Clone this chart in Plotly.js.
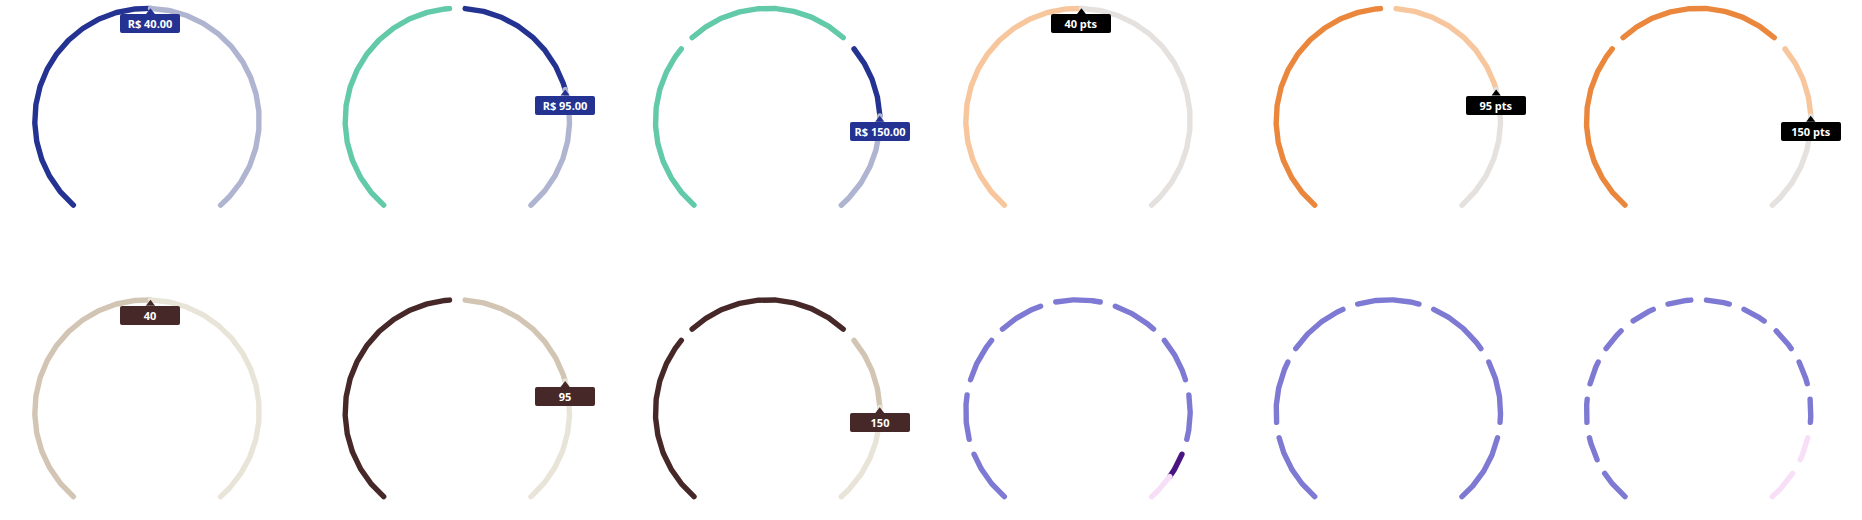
<!DOCTYPE html>
<html>
<head>
<meta charset="utf-8">
<script src="https://cdn.plot.ly/plotly-3.0.1.min.js"></script>
<style>
html, body { margin: 0; padding: 0; background: #ffffff; }
#chart .js-line { stroke-linecap: round; }
#chart .annotation rect.bg { rx: 2px; ry: 2px; }
</style>
</head>
<body>
<div id="chart" style="width:1862px;height:520px;"></div>
<script>
// ---------------- data ----------------
const gaugeLabels = ['R$ 40.00', 'R$ 95.00', 'R$ 150.00', '40 pts', '95 pts', '150 pts', '40', '95', '150', '', '', ''];
const gaugeValues = [40, 95, 150, 40, 95, 150, 40, 95, 150, 8.55, 7, 12];
const gaugeMax = [79, 124, 184, 79, 124, 184, 79, 124, 184, 9, 7, 14];
const gaugeSegments = [1, 2, 3, 1, 2, 3, 1, 2, 3, 9, 7, 14];

// ---------------- styles ----------------
const themes = {
  blue:   { complete: '#62C9A9', progress: '#243391', remain: '#AFB4D0', box: '#243391', text: '#ffffff' },
  orange: { complete: '#EB873C', progress: '#F7C69C', remain: '#E5E1DE', box: '#000000', text: '#ffffff' },
  brown:  { complete: '#472828', progress: '#D3C5B3', remain: '#E9E4D8', box: '#472828', text: '#ffffff' },
  purple: { complete: '#7E7AD3', progress: '#4A1583', remain: '#F8DFF8', box: '#4A1583', text: '#ffffff' }
};
const gaugeTheme = ['blue', 'blue', 'blue', 'orange', 'orange', 'orange', 'brown', 'brown', 'brown', 'purple', 'purple', 'purple'];

const W = 1862, H = 520;
const COL_X0 = 147, COL_DX = 310.33;
const ROW_Y = [120.5, 412];
const R = 112.2;
const A0 = -139, A1 = 139;      // degrees from top, clockwise
const GAP = 8;                  // degrees between segments
const LINE_W = 5.4;

function ang(v, max) { return A0 + (A1 - A0) * v / max; }
function pt(cx, cy, a) {
  const t = a * Math.PI / 180;
  return [cx + R * Math.sin(t), cy - R * Math.cos(t)];
}
function arcTrace(cx, cy, a0, a1, color) {
  const xs = [], ys = [];
  const steps = Math.max(2, Math.ceil(Math.abs(a1 - a0) / 0.5));
  for (let i = 0; i <= steps; i++) {
    const a = a0 + (a1 - a0) * i / steps;
    const p = pt(cx, cy, a);
    xs.push(p[0]); ys.push(p[1]);
  }
  return { type: 'scatter', mode: 'lines', x: xs, y: ys,
           line: { color: color, width: LINE_W }, hoverinfo: 'skip', showlegend: false };
}

const traces = [];
const markerTraces = [];
const annotations = [];

for (let g = 0; g < gaugeValues.length; g++) {
  const col = g % 6, row = Math.floor(g / 6);
  const cx = COL_X0 + COL_DX * col, cy = ROW_Y[row];
  const n = gaugeSegments[g], max = gaugeMax[g], v = gaugeValues[g];
  const th = themes[gaugeTheme[g]];
  const progressArcs = [], remainArcs = [];
  for (let k = 0; k < n; k++) {
    const lo = max * k / n, hi = max * (k + 1) / n;
    const aLo = ang(lo, max) + (k > 0 ? GAP / 2 : 0);
    const aHi = ang(hi, max) - (k < n - 1 ? GAP / 2 : 0);
    if (v >= hi) {
      traces.push(arcTrace(cx, cy, aLo, aHi, th.complete));
    } else if (v <= lo) {
      remainArcs.push(arcTrace(cx, cy, aLo, aHi, th.remain));
    } else {
      const av = ang(v, max);
      progressArcs.push(arcTrace(cx, cy, aLo, av, th.progress));
      remainArcs.push(arcTrace(cx, cy, av, aHi, th.remain));
    }
  }
  traces.push(...progressArcs, ...remainArcs);

  if (gaugeLabels[g]) {
    const tip = pt(cx, cy, ang(v, max));
    markerTraces.push({ type: 'scatter', mode: 'markers', x: [tip[0]], y: [tip[1] + 4],
      marker: { symbol: 'triangle-up', size: 8, color: th.box, line: { width: 0 } },
      hoverinfo: 'skip', showlegend: false });
    annotations.push({ x: tip[0], y: tip[1] + 6, xref: 'x', yref: 'y', xanchor: 'center', yanchor: 'top',
      text: '<b>' + gaugeLabels[g] + '</b>', showarrow: false, width: 60, height: 18.5,
      bgcolor: th.box, borderwidth: 0, borderpad: 0,
      font: { family: 'Open Sans, sans-serif', size: 11, color: th.text } });
  }
}

const layout = {
  width: W, height: H,
  margin: { l: 0, r: 0, t: 0, b: 0 },
  paper_bgcolor: '#ffffff', plot_bgcolor: '#ffffff',
  xaxis: { range: [0, W], visible: false, fixedrange: true },
  yaxis: { range: [H, 0], visible: false, fixedrange: true },
  showlegend: false,
  annotations: annotations
};

Plotly.newPlot('chart', traces.concat(markerTraces), layout, { staticPlot: true, displayModeBar: false });
</script>
</body>
</html>
